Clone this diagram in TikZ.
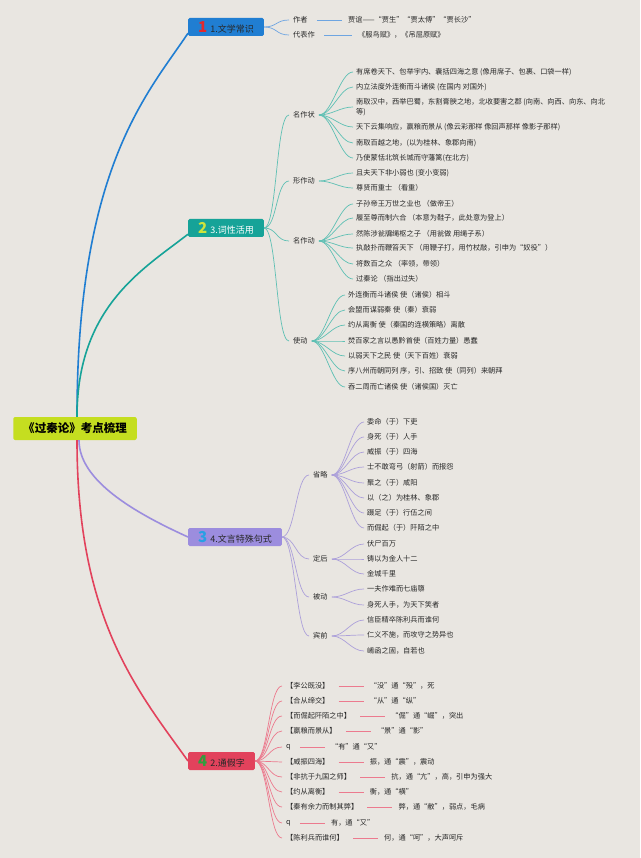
\documentclass[tikz,border=0pt]{standalone}
\usepackage{fontspec}
\setmainfont{Noto Sans CJK SC}
\usepackage{xcolor}
\usepackage{tikz}
\usetikzlibrary{positioning}

\definecolor{paper}{RGB}{233,230,225}
\definecolor{rootgreen}{RGB}{197,222,32}
\definecolor{wxblue}{RGB}{32,126,210}
\definecolor{wxline}{RGB}{110,165,225}
\definecolor{cxteal}{RGB}{22,163,152}
\definecolor{cxline}{RGB}{95,192,180}
\definecolor{jslav}{RGB}{156,141,222}
\definecolor{jsline}{RGB}{172,160,218}
\definecolor{tjred}{RGB}{226,66,92}
\definecolor{tjline}{RGB}{236,122,142}
\definecolor{numred}{RGB}{228,40,44}
\definecolor{numyellow}{RGB}{205,228,60}
\definecolor{numblue}{RGB}{40,160,228}
\definecolor{numgreen}{RGB}{48,158,62}
\definecolor{inkgray}{RGB}{40,40,40}

\newcommand{\bnum}[2]{{\fontsize{15}{15}\selectfont\bfseries\color{#1}#2}\hspace{3pt}}

\begin{document}
\begin{tikzpicture}[
    x=1pt, y=-1pt,
    rootbox/.style = {rectangle, fill=rootgreen, rounded corners=2pt, minimum height=23pt, inner xsep=10pt, font=\fontsize{11.5}{13}\selectfont\bfseries},
    branchbox/.style = {rectangle, rounded corners=1.5pt, minimum height=18pt, inner xsep=10pt, inner ysep=0pt, anchor=west, font=\fontsize{9}{10}\selectfont},
    sub/.style = {anchor=west, inner xsep=4pt, inner ysep=1pt, text=inkgray, font=\fontsize{7.2}{9}\selectfont},
    leaf/.style = {anchor=west, inner xsep=3pt, inner ysep=1pt, align=left, text=inkgray, font=\fontsize{7.2}{10}\selectfont},
    trunk/.style = {line width=1.6pt},
    twig/.style = {line width=0.7pt, to path={.. controls +(13,0) and +(-13,0) .. (\tikztotarget)}},
    link/.style = {line width=0.7pt, shorten <=5pt, shorten >=3pt}
]

\useasboundingbox (0,0) rectangle (640,858);
\fill [paper] (0,0) rectangle (640,858);

% Main nodes
\node (root) [rootbox] at (75,428.5) {《过秦论》考点梳理};
\node (wenxue) [branchbox, fill=wxblue, text=inkgray] at (188,27) {\bnum{numred}{1}1.文学常识};
\node (cixing) [branchbox, fill=cxteal, text=white] at (188,228) {\bnum{numyellow}{2}3.词性活用};
\node (jushi) [branchbox, fill=jslav, text=inkgray] at (188,537) {\bnum{numblue}{3}4.文言特殊句式};
\node (tongjia) [branchbox, fill=tjred, text=inkgray] at (188,761) {\bnum{numgreen}{4}2.通假字};

% 1. 文学常识
\node (zuozhe) [sub] at (289,20) {作者};
\node (daibiao) [sub] at (289,35) {代表作};
\node (zuozhex) [leaf] at (345,20) {贾谊——“贾生”“贾太傅”“贾长沙”};
\node (daibiaox) [leaf] at (355,35) {《服鸟赋》，《吊屈原赋》};

% 3. 词性活用
\node (mzz) [sub] at (289,115) {名作状};
\node (xzd) [sub] at (289,181) {形作动};
\node (mzd) [sub] at (289,241) {名作动};
\node (shidong) [sub] at (289,341) {使动};

\node (mzz1) [leaf] at (353,72) {有席卷天下、包举宇内、囊括四海之意 (像用席子、包裹、口袋一样)};
\node (mzz2) [leaf] at (353,87) {内立法度外连衡而斗诸侯 (在国内 对国外)};
\node (mzz3) [leaf] at (353,107) {南取汉中，西举巴蜀，东割膏腴之地，北收要害之郡 (向南、向西、向东、向北\\等)};
\node (mzz4) [leaf] at (353,127) {天下云集响应，赢粮而景从 (像云彩那样 像回声那样 像影子那样)};
\node (mzz5) [leaf] at (353,143) {南取百越之地，(以为桂林、象郡向南)};
\node (mzz6) [leaf] at (353,158) {乃使蒙恬北筑长城而守藩篱(在北方)};

\node (xzd1) [leaf] at (353,173) {且夫天下非小弱也 (变小变弱)};
\node (xzd2) [leaf] at (353,188) {尊贤而重士 （看重）};

\node (mzd1) [leaf] at (353,204) {子孙帝王万世之业也 （做帝王）};
\node (mzd2) [leaf] at (353,218) {履至尊而制六合 （本意为鞋子，此处意为登上）};
\node (mzd3) [leaf] at (353,234) {然陈涉瓮牖绳枢之子 （用瓮做 用绳子系）};
\node (mzd4) [leaf] at (353,248) {执敲扑而鞭笞天下 （用鞭子打，用竹杖敲，引申为“奴役”）};
\node (mzd5) [leaf] at (353,264) {将数百之众 （率领，带领）};
\node (mzd6) [leaf] at (353,279) {过秦论 （指出过失）};

\node (sd1) [leaf] at (345,295) {外连衡而斗诸侯 使（诸侯）相斗};
\node (sd2) [leaf] at (345,310) {会盟而谋弱秦 使（秦）衰弱};
\node (sd3) [leaf] at (345,325) {约从离衡 使（秦国的连横策略）离散};
\node (sd4) [leaf] at (345,341) {焚百家之言以愚黔首使（百姓力量）愚蠢};
\node (sd5) [leaf] at (345,356) {以弱天下之民 使（天下百姓）衰弱};
\node (sd6) [leaf] at (345,371) {序八州而朝同列 序，引、招致 使（同列）来朝拜};
\node (sd7) [leaf] at (345,387) {吞二周而亡诸侯 使（诸侯国）灭亡};

% 4. 文言特殊句式
\node (shenglue) [sub] at (309,475) {省略};
\node (dinghou) [sub] at (309,559) {定后};
\node (beidong) [sub] at (309,597) {被动};
\node (binqian) [sub] at (309,636) {宾前};

\node (sl1) [leaf] at (364,422) {委命（于）下吏};
\node (sl2) [leaf] at (364,437) {身死（于）人手};
\node (sl3) [leaf] at (364,452) {威振（于）四海};
\node (sl4) [leaf] at (364,467) {士不敢弯弓（射箭）而报怨};
\node (sl5) [leaf] at (364,483) {聚之（于）咸阳};
\node (sl6) [leaf] at (364,498) {以（之）为桂林、象郡};
\node (sl7) [leaf] at (364,513) {蹑足（于）行伍之间};
\node (sl8) [leaf] at (364,528) {而倔起（于）阡陌之中};

\node (dh1) [leaf] at (364,544) {伏尸百万};
\node (dh2) [leaf] at (364,559) {铸以为金人十二};
\node (dh3) [leaf] at (364,574) {金城千里};

\node (bd1) [leaf] at (364,589) {一夫作难而七庙隳};
\node (bd2) [leaf] at (364,605) {身死人手，为天下笑者};

\node (bq1) [leaf] at (364,620) {信臣精卒陈利兵而谁何};
\node (bq2) [leaf] at (364,635) {仁义不施，而攻守之势异也};
\node (bq3) [leaf] at (364,651) {崤函之固，自若也};

% 2. 通假字
\node (tj1) [sub] at (282,686) {【李公既没】};
\node (tj2) [sub] at (282,701) {【合从缔交】};
\node (tj3) [sub] at (282,716) {【而倔起阡陌之中】};
\node (tj4) [sub] at (282,731) {【嬴粮而景从】};
\node (tj5) [sub] at (282,747) {q};
\node (tj6) [sub] at (282,762) {【威振四海】};
\node (tj7) [sub] at (282,777) {【非抗于九国之师】};
\node (tj8) [sub] at (282,792) {【约从离衡】};
\node (tj9) [sub] at (282,807) {【秦有余力而制其弊】};
\node (tj10) [sub] at (282,823) {q};
\node (tj11) [sub] at (282,838) {【陈利兵而谁何】};

\node (tj1x) [leaf, right=33pt of tj1] {“没”通“殁”，死};
\node (tj2x) [leaf, right=33pt of tj2] {“从”通“纵”};
\node (tj3x) [leaf, right=33pt of tj3] {“倔”通“崛”，突出};
\node (tj4x) [leaf, right=33pt of tj4] {“景”通“影”};
\node (tj5x) [leaf, right=33pt of tj5] {“有”通“又”};
\node (tj6x) [leaf, right=33pt of tj6] {振，通“震”，震动};
\node (tj7x) [leaf, right=33pt of tj7] {抗，通“亢”，高，引申为强大};
\node (tj8x) [leaf, right=33pt of tj8] {衡，通“横”};
\node (tj9x) [leaf, right=33pt of tj9] {弊，通“敝”，弱点，毛病};
\node (tj10x) [leaf, right=33pt of tj10] {有，通“又”};
\node (tj11x) [leaf, right=33pt of tj11] {何，通“呵”，大声呵斥};

% Trunk lines
\draw [trunk, wxblue] ([xshift=2pt]root.north) .. controls +(0,-250) and +(-40,60) .. ([yshift=3pt]wenxue.south west);
\draw [trunk, cxteal] ([xshift=2pt]root.north) .. controls +(0,-110) and +(-45,35) .. ([yshift=3pt]cixing.south west);
\draw [trunk, jslav] ([xshift=4pt]root.south) .. controls +(0,40) and +(-55,-25) .. (jushi.west);
\draw [trunk, tjred] ([xshift=2pt]root.south) .. controls +(0,180) and +(-50,-70) .. (tongjia.west);

% Branch lines
\draw [twig, wxline] (wenxue.east) to (zuozhe.west);
\draw [twig, wxline] (wenxue.east) to (daibiao.west);
\draw [link, wxline] (zuozhe) -- (zuozhex);
\draw [link, wxline] (daibiao) -- (daibiaox);

\draw [twig, cxline] (cixing.east) to (mzz.west);
\draw [twig, cxline] (cixing.east) to (xzd.west);
\draw [twig, cxline] (cixing.east) to (mzd.west);
\draw [twig, cxline] (cixing.east) to (shidong.west);
\draw [twig, cxline] (mzz.east) to (mzz1.west);
\draw [twig, cxline] (mzz.east) to (mzz2.west);
\draw [twig, cxline] (mzz.east) to (mzz3.west);
\draw [twig, cxline] (mzz.east) to (mzz4.west);
\draw [twig, cxline] (mzz.east) to (mzz5.west);
\draw [twig, cxline] (mzz.east) to (mzz6.west);
\draw [twig, cxline] (xzd.east) to (xzd1.west);
\draw [twig, cxline] (xzd.east) to (xzd2.west);
\draw [twig, cxline] (mzd.east) to (mzd1.west);
\draw [twig, cxline] (mzd.east) to (mzd2.west);
\draw [twig, cxline] (mzd.east) to (mzd3.west);
\draw [twig, cxline] (mzd.east) to (mzd4.west);
\draw [twig, cxline] (mzd.east) to (mzd5.west);
\draw [twig, cxline] (mzd.east) to (mzd6.west);
\draw [twig, cxline] (shidong.east) to (sd1.west);
\draw [twig, cxline] (shidong.east) to (sd2.west);
\draw [twig, cxline] (shidong.east) to (sd3.west);
\draw [twig, cxline] (shidong.east) to (sd4.west);
\draw [twig, cxline] (shidong.east) to (sd5.west);
\draw [twig, cxline] (shidong.east) to (sd6.west);
\draw [twig, cxline] (shidong.east) to (sd7.west);

\draw [twig, jsline] (jushi.east) to (shenglue.west);
\draw [twig, jsline] (jushi.east) to (dinghou.west);
\draw [twig, jsline] (jushi.east) to (beidong.west);
\draw [twig, jsline] (jushi.east) to (binqian.west);
\draw [twig, jsline] (shenglue.east) to (sl1.west);
\draw [twig, jsline] (shenglue.east) to (sl2.west);
\draw [twig, jsline] (shenglue.east) to (sl3.west);
\draw [twig, jsline] (shenglue.east) to (sl4.west);
\draw [twig, jsline] (shenglue.east) to (sl5.west);
\draw [twig, jsline] (shenglue.east) to (sl6.west);
\draw [twig, jsline] (shenglue.east) to (sl7.west);
\draw [twig, jsline] (shenglue.east) to (sl8.west);
\draw [twig, jsline] (dinghou.east) to (dh1.west);
\draw [twig, jsline] (dinghou.east) to (dh2.west);
\draw [twig, jsline] (dinghou.east) to (dh3.west);
\draw [twig, jsline] (beidong.east) to (bd1.west);
\draw [twig, jsline] (beidong.east) to (bd2.west);
\draw [twig, jsline] (binqian.east) to (bq1.west);
\draw [twig, jsline] (binqian.east) to (bq2.west);
\draw [twig, jsline] (binqian.east) to (bq3.west);

\draw [twig, tjline] (tongjia.east) to (tj1.west);
\draw [twig, tjline] (tongjia.east) to (tj2.west);
\draw [twig, tjline] (tongjia.east) to (tj3.west);
\draw [twig, tjline] (tongjia.east) to (tj4.west);
\draw [twig, tjline] (tongjia.east) to (tj5.west);
\draw [twig, tjline] (tongjia.east) to (tj6.west);
\draw [twig, tjline] (tongjia.east) to (tj7.west);
\draw [twig, tjline] (tongjia.east) to (tj8.west);
\draw [twig, tjline] (tongjia.east) to (tj9.west);
\draw [twig, tjline] (tongjia.east) to (tj10.west);
\draw [twig, tjline] (tongjia.east) to (tj11.west);
\draw [link, tjline] (tj1) -- (tj1x);
\draw [link, tjline] (tj2) -- (tj2x);
\draw [link, tjline] (tj3) -- (tj3x);
\draw [link, tjline] (tj4) -- (tj4x);
\draw [link, tjline] (tj5) -- (tj5x);
\draw [link, tjline] (tj6) -- (tj6x);
\draw [link, tjline] (tj7) -- (tj7x);
\draw [link, tjline] (tj8) -- (tj8x);
\draw [link, tjline] (tj9) -- (tj9x);
\draw [link, tjline] (tj10) -- (tj10x);
\draw [link, tjline] (tj11) -- (tj11x);

\end{tikzpicture}
\end{document}
